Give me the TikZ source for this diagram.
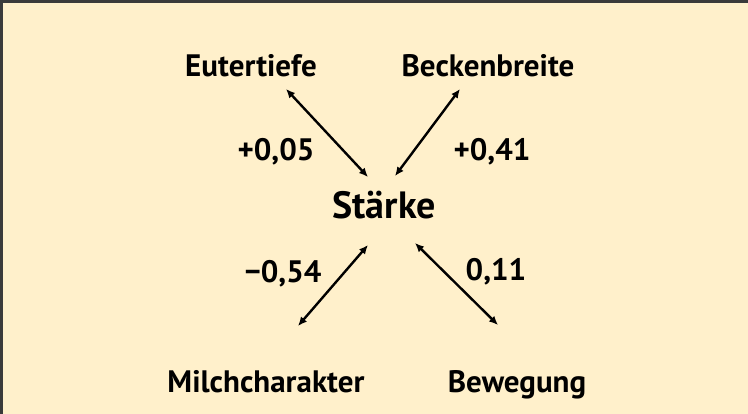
\documentclass[tikz,border=0pt]{standalone}
\usepackage{fontspec}
\setmainfont{PT Sans}
\usetikzlibrary{arrows.meta}
\definecolor{bg}{HTML}{FFF0CB}
\definecolor{frame}{HTML}{3A3A3A}
\begin{document}
\begin{tikzpicture}[x=1pt,y=-1pt,
  lbl/.style={font=\fontsize{31}{34}\selectfont\bfseries, inner sep=0pt, anchor=base},
  ctr/.style={font=\fontsize{38}{42}\selectfont\bfseries, inner sep=0pt, anchor=base},
  link/.style={line width=2.4pt, {Latex[length=9pt,width=8pt]}-{Latex[length=9pt,width=8pt]}}]
\useasboundingbox (0,0) rectangle (748,413);
\fill[bg] (-4,-4) rectangle (752,417);
\draw[frame, line width=2.5pt] (1.25,417) -- (1.25,1.25) -- (752,1.25);
\node[lbl] (eu) at (251,76) {Eutertiefe};
\node[lbl] (be) at (488,76) {Beckenbreite};
\node[ctr] (st) at (384,218) {Stärke};
\node[lbl] (mi) at (266,392) {Milchcharakter};
\node[lbl] (bw) at (517,392) {Bewegung};
\node[lbl] (l1) at (276,160) {+0,05};
\node[lbl] (l2) at (492,160) {+0,41};
\node[lbl] (l3) at (283,282) {\char"2212 0,54};
\node[lbl] (l4) at (496,280) {0,11};
\coordinate (eua) at (286,89);
\coordinate (sta) at (368,177);
\coordinate (bea) at (460,89);
\coordinate (stb) at (395,176);
\coordinate (stc) at (368,245);
\coordinate (mia) at (298,326);
\coordinate (std) at (415,243);
\coordinate (bwa) at (498,325);
\draw[link] (eua) -- (sta);
\draw[link] (bea) -- (stb);
\draw[link] (stc) -- (mia);
\draw[link] (std) -- (bwa);
\end{tikzpicture}
\end{document}
